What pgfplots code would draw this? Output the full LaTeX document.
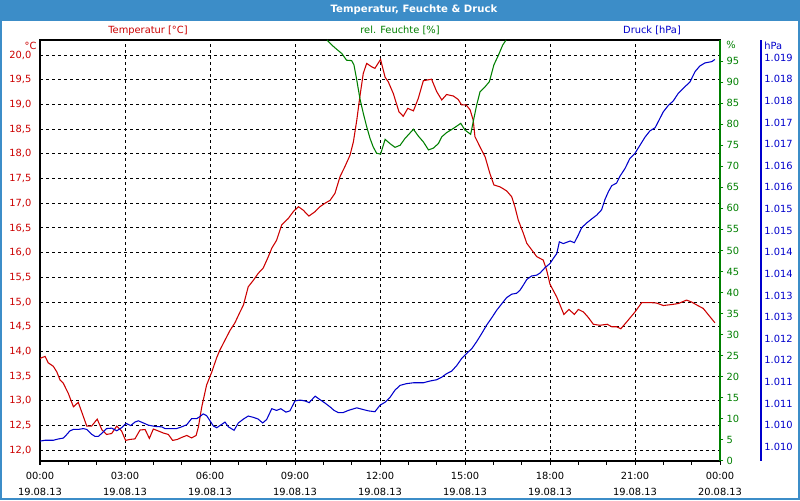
\documentclass[border=0pt]{standalone}
\usepackage{pgfplots}
\pgfplotsset{compat=1.18}
\usepackage{pgfplotstable}
\usepackage{fontspec}
\setmainfont{DejaVu Sans}
\definecolor{tred}{RGB}{204,0,0}
\definecolor{hgreen}{RGB}{0,128,0}
\definecolor{pblue}{RGB}{0,0,204}
\definecolor{frameblue}{RGB}{60,141,200}
\newcommand\tickfont{\fontsize{7.4}{12}\selectfont}

\pgfplotstableread{
h T
0.00 13.86
0.18 13.90
0.29 13.77
0.47 13.70
0.59 13.59
0.71 13.42
0.82 13.36
1.00 13.15
1.18 12.88
1.35 12.97
1.47 12.78
1.65 12.49
1.82 12.49
2.02 12.63
2.18 12.42
2.35 12.32
2.53 12.34
2.71 12.49
2.88 12.39
3.02 12.20
3.18 12.22
3.35 12.23
3.53 12.41
3.71 12.42
3.86 12.24
4.00 12.43
4.18 12.39
4.35 12.35
4.53 12.32
4.68 12.20
4.85 12.22
5.00 12.26
5.18 12.30
5.35 12.25
5.51 12.30
5.59 12.47
5.71 12.88
5.88 13.32
6.06 13.58
6.24 13.88
6.35 14.03
6.53 14.23
6.71 14.43
6.88 14.58
7.06 14.80
7.18 14.94
7.35 15.31
7.53 15.44
7.70 15.58
7.88 15.69
8.06 15.92
8.18 16.09
8.35 16.25
8.53 16.56
8.76 16.69
8.94 16.83
9.12 16.93
9.29 16.86
9.49 16.74
9.71 16.83
9.88 16.93
10.06 17.00
10.24 17.06
10.41 17.20
10.59 17.54
10.76 17.74
10.94 17.97
11.06 18.24
11.18 18.68
11.29 19.16
11.41 19.63
11.53 19.83
11.71 19.76
11.82 19.73
12.02 19.91
12.18 19.55
12.29 19.46
12.47 19.22
12.67 18.85
12.82 18.76
12.98 18.92
13.18 18.87
13.35 19.12
13.53 19.48
13.82 19.51
14.00 19.26
14.18 19.09
14.35 19.20
14.59 19.17
14.76 19.10
14.88 18.99
15.04 18.99
15.18 18.89
15.29 18.68
15.35 18.35
15.53 18.14
15.71 17.94
15.88 17.60
16.02 17.37
16.24 17.33
16.47 17.25
16.65 17.13
16.76 16.93
16.88 16.66
17.06 16.39
17.18 16.19
17.35 16.06
17.53 15.92
17.76 15.85
17.88 15.65
18.00 15.36
18.24 15.10
18.49 14.75
18.67 14.85
18.86 14.75
19.00 14.85
19.18 14.80
19.35 14.69
19.53 14.55
19.76 14.53
20.02 14.55
20.18 14.50
20.35 14.50
20.50 14.46
20.71 14.60
21.00 14.80
21.24 14.99
21.53 14.99
21.76 14.98
22.00 14.93
22.30 14.95
22.53 14.97
22.82 15.04
23.00 15.00
23.18 14.94
23.41 14.87
23.65 14.70
23.82 14.58
}\temptable

\pgfplotstableread{
h H
10.13 100
10.30 98.8
10.47 97.8
10.65 96.8
10.82 95.2
11.00 95.1
11.08 94.1
11.18 90.5
11.29 86.1
11.41 82.6
11.53 79.4
11.65 76.6
11.76 74.6
11.88 73.1
12.02 72.9
12.18 76.4
12.35 75.4
12.53 74.5
12.71 75.0
12.88 76.6
13.18 78.8
13.35 77.2
13.53 75.8
13.71 73.9
13.88 74.3
14.06 75.4
14.18 77.0
14.35 78.0
14.59 79.0
14.85 80.2
15.00 78.6
15.20 77.6
15.29 80.6
15.41 84.5
15.53 87.7
15.71 88.9
15.86 90.1
16.02 94.1
16.18 96.4
16.33 98.8
16.45 100
}\humtable

\pgfplotstableread{
h P
0.00 1010.13
0.18 1010.15
0.47 1010.15
0.65 1010.18
0.82 1010.20
0.94 1010.28
1.06 1010.37
1.18 1010.40
1.35 1010.40
1.53 1010.42
1.65 1010.40
1.82 1010.29
1.94 1010.24
2.06 1010.24
2.18 1010.31
2.35 1010.42
2.53 1010.43
2.71 1010.37
2.88 1010.44
3.04 1010.54
3.20 1010.49
3.35 1010.57
3.47 1010.60
3.65 1010.55
3.82 1010.50
4.06 1010.47
4.30 1010.46
4.41 1010.42
4.65 1010.42
4.82 1010.42
5.00 1010.46
5.18 1010.51
5.35 1010.65
5.53 1010.65
5.65 1010.70
5.76 1010.76
5.88 1010.72
6.00 1010.60
6.12 1010.48
6.24 1010.44
6.35 1010.49
6.53 1010.57
6.65 1010.46
6.85 1010.38
7.00 1010.55
7.18 1010.64
7.35 1010.71
7.53 1010.68
7.70 1010.64
7.86 1010.55
8.00 1010.63
8.18 1010.88
8.35 1010.84
8.50 1010.88
8.68 1010.80
8.82 1010.83
9.00 1011.06
9.18 1011.08
9.35 1011.06
9.50 1011.02
9.71 1011.17
9.88 1011.09
10.06 1011.01
10.24 1010.92
10.38 1010.84
10.53 1010.79
10.70 1010.79
10.88 1010.84
11.18 1010.90
11.41 1010.86
11.59 1010.83
11.82 1010.81
12.00 1010.96
12.18 1011.03
12.35 1011.14
12.53 1011.31
12.71 1011.42
12.94 1011.46
13.18 1011.48
13.53 1011.48
13.76 1011.52
14.00 1011.55
14.18 1011.61
14.35 1011.69
14.53 1011.75
14.71 1011.88
14.88 1012.04
15.06 1012.16
15.24 1012.27
15.41 1012.43
15.59 1012.62
15.76 1012.81
15.94 1012.98
16.12 1013.16
16.30 1013.31
16.47 1013.45
16.65 1013.53
16.82 1013.55
16.94 1013.62
17.06 1013.74
17.18 1013.87
17.35 1013.95
17.53 1013.97
17.65 1014.02
17.82 1014.14
18.00 1014.24
18.12 1014.36
18.24 1014.47
18.33 1014.74
18.47 1014.70
18.71 1014.76
18.86 1014.72
19.00 1014.90
19.12 1015.07
19.30 1015.18
19.47 1015.27
19.65 1015.36
19.82 1015.48
19.94 1015.72
20.06 1015.90
20.18 1016.04
20.35 1016.10
20.47 1016.26
20.65 1016.44
20.82 1016.67
21.00 1016.79
21.18 1016.98
21.35 1017.16
21.53 1017.31
21.71 1017.38
21.82 1017.52
22.00 1017.75
22.18 1017.90
22.35 1018.00
22.53 1018.18
22.70 1018.29
22.94 1018.44
23.12 1018.68
23.29 1018.81
23.47 1018.88
23.71 1018.91
23.82 1018.96
}\prestable

\begin{document}
\begin{tikzpicture}
\useasboundingbox (0,0) rectangle (600pt,375pt);
\fill[frameblue] (0,0) rectangle (600pt,375pt);
\fill[white] (1.25pt,1.5pt) rectangle (598.75pt,359.25pt);
\node[text=white, font=\fontsize{7.6}{9}\selectfont\bfseries] at (310.5pt,367.5pt) {Temperatur, Feuchte \& Druck};
\node[text=tred, font=\tickfont] at (111pt,352pt) {Temperatur [°C]};
\node[text=hgreen, font=\tickfont] at (300pt,352pt) {rel. Feuchte [\%]};
\node[text=pblue, font=\tickfont] at (489pt,352pt) {Druck [hPa]};
\node[text=tred, font=\tickfont, anchor=east, inner sep=0pt] at (27.5pt,340.5pt) {°C};
\node[text=hgreen, font=\tickfont, anchor=west, inner sep=0pt] at (544.5pt,341pt) {\%};
\node[text=pblue, font=\tickfont, anchor=west, inner sep=0pt] at (573pt,340.5pt) {hPa};

% temperature axis (with grid and time axis)
\begin{axis}[
  at={(30pt,29.25pt)}, anchor=south west,
  scale only axis, width=510pt, height=315.75pt,
  xmin=0, xmax=24, ymin=11.783, ymax=20.304,
  xtick={0,3,...,24}, minor x tick num=2, xtick pos=bottom,
  xticklabels={{00:00\\19.08.13},{03:00\\19.08.13},{06:00\\19.08.13},{09:00\\19.08.13},{12:00\\19.08.13},{15:00\\19.08.13},{18:00\\19.08.13},{21:00\\19.08.13},{00:00\\20.08.13}},
  xticklabel style={align=center, font=\tickfont, text=black, yshift=-1.8pt},
  ytick={12,12.5,...,20.1}, ytick pos=left,
  yticklabel style={text=tred, font=\tickfont, /pgf/number format/.cd, fixed, fixed zerofill, precision=1, use comma},
  /pgf/number format/assume math mode=true,
  grid=major,
  major grid style={black, line width=0.75pt, dash pattern=on 2.25pt off 2.25pt},
  tick align=outside,
  xtick style={black, line width=0.75pt},
  major tick length=3pt, minor tick length=3pt,
  ytick style={draw=none},
  axis line style={black, line width=0.9pt},
]
\addplot[tred, line width=0.8pt] table[x=h, y=T] {\temptable};
\end{axis}

% humidity axis
\begin{axis}[
  at={(30pt,29.25pt)}, anchor=south west,
  scale only axis, width=510pt, height=315.75pt,
  xmin=0, xmax=24, ymin=0, ymax=100,
  axis x line=none, axis y line*=right,
  axis line style={-, hgreen, line width=0.9pt},
  ytick={0,5,...,95},
  yticklabel style={text=hgreen, font=\tickfont, anchor=west, xshift=-1pt},
  /pgf/number format/assume math mode=true,
  ytick style={hgreen, line width=0.75pt},
  tick align=outside, major tick length=2.5pt,
]
\addplot[hgreen, line width=0.8pt] table[x=h, y=H] {\humtable};
\end{axis}

% pressure data
\begin{axis}[
  at={(30pt,29.25pt)}, anchor=south west,
  scale only axis, width=510pt, height=315.75pt,
  xmin=0, xmax=24, ymin=1009.67, ymax=1019.41,
  hide axis,
]
\addplot[pblue, line width=0.8pt] table[x=h, y=P] {\prestable};
\end{axis}

% pressure scale
\begin{axis}[
  at={(565.75pt,29.25pt)}, anchor=south west,
  scale only axis, width=5pt, height=315.75pt,
  xmin=0, xmax=1, ymin=1009.67, ymax=1019.41,
  axis x line=none, axis y line*=right,
  axis line style={-, pblue, line width=0.9pt},
  ytick={1010,1010.5,1011,1011.5,1012,1012.5,1013,1013.5,1014,1014.5,1015,1015.5,1016,1016.5,1017,1017.5,1018,1018.5,1019},
  yticklabels={1.010,1.010,1.011,1.011,1.012,1.012,1.013,1.013,1.014,1.014,1.015,1.015,1.016,1.016,1.017,1.017,1.018,1.018,1.019},
  yticklabel style={text=pblue, font=\tickfont, anchor=west, xshift=-1pt},
  ytick style={draw=none},
]
\addplot[draw=none] coordinates {(0,1010) (1,1010)};
\end{axis}
\end{tikzpicture}
\end{document}
